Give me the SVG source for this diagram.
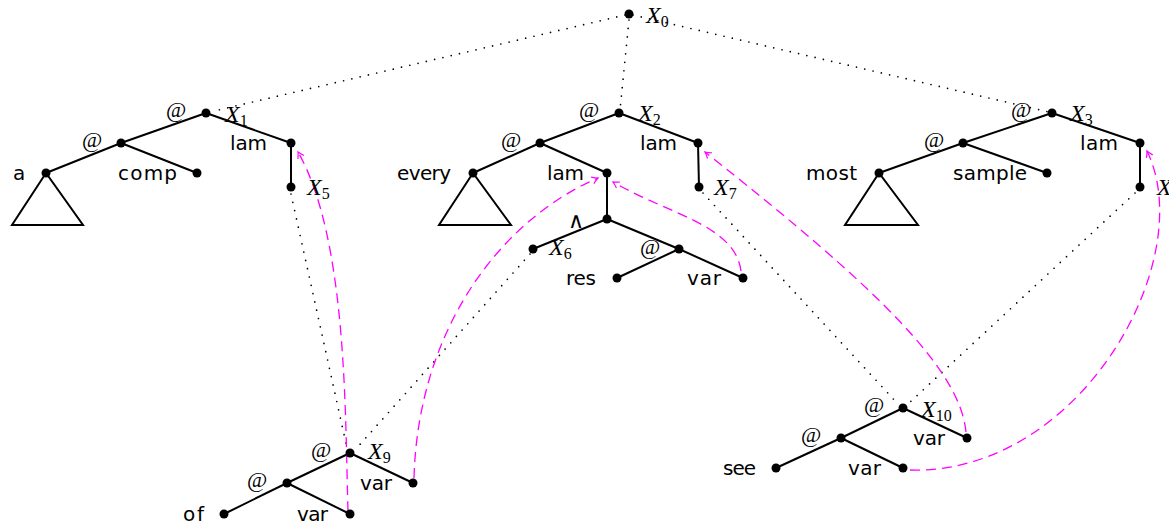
<svg xmlns="http://www.w3.org/2000/svg" width="1169" height="529" viewBox="0 0 1169 529">
<style>
.e{stroke:#000;stroke-width:2;fill:none}
.tri{stroke:#000;stroke-width:2;fill:#fff;stroke-linejoin:miter}
.d{stroke:#000;stroke-width:1.7;stroke-linecap:round;stroke-dasharray:0 8.5;fill:none}
.m{stroke:#ff00ff;stroke-width:1.3;stroke-dasharray:10 6;fill:none;marker-end:url(#ah)}
.n{fill:#000}
.s{font-family:"DejaVu Sans","Liberation Sans",sans-serif;font-size:20px;fill:#000}
.at{font-family:"Liberation Serif",serif;font-size:22px;fill:#000}
.w{font-family:"DejaVu Serif","Liberation Serif",serif;font-size:22px;fill:#000}
.x{font-family:"Liberation Serif",serif;font-style:italic;font-size:24px;fill:#000}
.sub{font-style:normal;font-size:16px}
</style>
<defs>
<marker id="ah" markerWidth="12" markerHeight="12" viewBox="-8 -6 10 12" refX="0" refY="0" orient="auto" markerUnits="userSpaceOnUse">
<path d="M-6,-3.5 Q-2,-0.8 0,0 Q-2,0.8 -6,3.5" stroke="#ff00ff" stroke-width="1.2" fill="none"/>
</marker>
</defs>
<g id="connectors">
<g id="tree-edges">
<line class="e" x1="206" y1="113" x2="121" y2="143"/>
<line class="e" x1="121" y1="143" x2="46" y2="173"/>
<line class="e" x1="121" y1="143" x2="197" y2="173"/>
<line class="e" x1="206" y1="113" x2="291" y2="143"/>
<line class="e" x1="291" y1="143" x2="291" y2="187"/>
<line class="e" x1="619" y1="113" x2="540" y2="143"/>
<line class="e" x1="540" y1="143" x2="473" y2="173"/>
<line class="e" x1="540" y1="143" x2="607" y2="173"/>
<line class="e" x1="607" y1="173" x2="607" y2="219"/>
<line class="e" x1="607" y1="219" x2="533" y2="249"/>
<line class="e" x1="607" y1="219" x2="679" y2="249"/>
<line class="e" x1="679" y1="249" x2="743" y2="278"/>
<line class="e" x1="679" y1="249" x2="617" y2="278"/>
<line class="e" x1="619" y1="113" x2="698" y2="143"/>
<line class="e" x1="698" y1="143" x2="699" y2="187"/>
<line class="e" x1="1052" y1="113" x2="963" y2="143"/>
<line class="e" x1="963" y1="143" x2="879" y2="173"/>
<line class="e" x1="963" y1="143" x2="1047" y2="173"/>
<line class="e" x1="1052" y1="113" x2="1140" y2="143"/>
<line class="e" x1="1140" y1="143" x2="1140" y2="187"/>
<line class="e" x1="350" y1="453" x2="287" y2="483"/>
<line class="e" x1="287" y1="483" x2="224" y2="514"/>
<line class="e" x1="287" y1="483" x2="350" y2="514"/>
<line class="e" x1="350" y1="453" x2="413" y2="483"/>
<line class="e" x1="903" y1="408" x2="841" y2="438"/>
<line class="e" x1="841" y1="438" x2="776" y2="468"/>
<line class="e" x1="841" y1="438" x2="903" y2="468"/>
<line class="e" x1="903" y1="408" x2="967" y2="438"/>
</g>
<g id="dotted">
<line class="d" x1="625" y1="15" x2="214" y2="111"/>
<line class="d" x1="629" y1="20" x2="620" y2="110"/>
<line class="d" x1="633" y1="15" x2="1049" y2="112"/>
<line class="d" x1="291" y1="194" x2="347" y2="448"/>
<line class="d" x1="530" y1="254" x2="355" y2="450"/>
<line class="d" x1="703" y1="193" x2="898" y2="404"/>
<line class="d" x1="1135" y1="193" x2="908" y2="404"/>
</g>
<g id="magenta">
<path class="m" d="M348,511 C345,420 348,240 298,152"/>
<path class="m" d="M414,478 C418,330 500,220 598,178"/>
<path class="m" d="M741,271 C735,225 670,215 613,182"/>
<path class="m" d="M966,432 C960,370 880,290 705,152"/>
<path class="m" d="M910,470 C1080,475 1200,260 1147,151"/>
</g>
</g>
<g id="X0"><circle class="n" cx="629" cy="14" r="4.5"/><text class="x" x="646" y="23">X<tspan class="sub" dy="4">0</tspan></text></g>
<g id="L-root"><circle class="n" cx="206" cy="113" r="4.5"/><text class="at" x="166" y="117">@</text><text class="x" x="225" y="122">X<tspan class="sub" dy="4">1</tspan></text></g>
<g id="L-app"><circle class="n" cx="121" cy="143" r="4.5"/><text class="at" x="82" y="147">@</text></g>
<g id="L-a"><polygon class="tri" points="46,173 12,225 83,225"/><circle class="n" cx="46" cy="173" r="4.5"/><text class="s" x="13" y="180">a</text></g>
<g id="L-comp"><circle class="n" cx="197" cy="173" r="4.5"/><text class="s" x="118" y="180" textLength="59" lengthAdjust="spacing">comp</text></g>
<g id="L-lam"><circle class="n" cx="291" cy="143" r="4.5"/><text class="s" x="230" y="150" textLength="37" lengthAdjust="spacing">lam</text></g>
<g id="X5"><circle class="n" cx="291" cy="187" r="4.5"/><text class="x" x="307" y="195">X<tspan class="sub" dy="4">5</tspan></text></g>
<g id="M-root"><circle class="n" cx="619" cy="113" r="4.5"/><text class="at" x="579" y="117">@</text><text class="x" x="638" y="121">X<tspan class="sub" dy="4">2</tspan></text></g>
<g id="M-app"><circle class="n" cx="540" cy="143" r="4.5"/><text class="at" x="501" y="147">@</text></g>
<g id="M-every"><polygon class="tri" points="473,173 439,225 511,225"/><circle class="n" cx="473" cy="173" r="4.5"/><text class="s" x="397" y="180" textLength="54" lengthAdjust="spacing">every</text></g>
<g id="M-lam1"><circle class="n" cx="607" cy="173" r="4.5"/><text class="s" x="547" y="180" textLength="37" lengthAdjust="spacing">lam</text></g>
<g id="M-and"><circle class="n" cx="607" cy="219" r="4.5"/><text class="w" x="568" y="228">∧</text></g>
<g id="X6"><circle class="n" cx="533" cy="249" r="4.5"/><text class="x" x="549" y="255">X<tspan class="sub" dy="4">6</tspan></text></g>
<g id="M-app2"><circle class="n" cx="679" cy="249" r="4.5"/><text class="at" x="640" y="254">@</text></g>
<g id="M-res"><circle class="n" cx="617" cy="278" r="4.5"/><text class="s" x="566" y="285" textLength="30" lengthAdjust="spacing">res</text></g>
<g id="M-var"><circle class="n" cx="743" cy="278" r="4.5"/><text class="s" x="687" y="285" textLength="34" lengthAdjust="spacing">var</text></g>
<g id="M-lam2"><circle class="n" cx="698" cy="143" r="4.5"/><text class="s" x="640" y="150" textLength="37" lengthAdjust="spacing">lam</text></g>
<g id="X7"><circle class="n" cx="699" cy="187" r="4.5"/><text class="x" x="714" y="195">X<tspan class="sub" dy="4">7</tspan></text></g>
<g id="R-root"><circle class="n" cx="1052" cy="113" r="4.5"/><text class="at" x="1011" y="117">@</text><text class="x" x="1070" y="121">X<tspan class="sub" dy="4">3</tspan></text></g>
<g id="R-app"><circle class="n" cx="963" cy="143" r="4.5"/><text class="at" x="924" y="147">@</text></g>
<g id="R-most"><polygon class="tri" points="879,173 845,225 918,225"/><circle class="n" cx="879" cy="173" r="4.5"/><text class="s" x="806" y="180" textLength="51" lengthAdjust="spacing">most</text></g>
<g id="R-sample"><circle class="n" cx="1047" cy="173" r="4.5"/><text class="s" x="953" y="180" textLength="74" lengthAdjust="spacing">sample</text></g>
<g id="R-lam"><circle class="n" cx="1140" cy="143" r="4.5"/><text class="s" x="1080" y="150" textLength="38" lengthAdjust="spacing">lam</text></g>
<g id="X4"><circle class="n" cx="1140" cy="187" r="4.5"/><text class="x" x="1157" y="195">X<tspan class="sub" dy="4">4</tspan></text></g>
<g id="B1-root"><circle class="n" cx="350" cy="453" r="4.5"/><text class="at" x="311" y="457">@</text><text class="x" x="368" y="459">X<tspan class="sub" dy="4">9</tspan></text></g>
<g id="B1-app"><circle class="n" cx="287" cy="483" r="4.5"/><text class="at" x="247" y="487">@</text></g>
<g id="B1-of"><circle class="n" cx="224" cy="514" r="4.5"/><text class="s" x="183" y="521" textLength="21" lengthAdjust="spacing">of</text></g>
<g id="B1-var1"><circle class="n" cx="350" cy="514" r="4.5"/><text class="s" x="297" y="521" textLength="31" lengthAdjust="spacing">var</text></g>
<g id="B1-var2"><circle class="n" cx="413" cy="483" r="4.5"/><text class="s" x="360" y="490" textLength="32" lengthAdjust="spacing">var</text></g>
<g id="B2-root"><circle class="n" cx="903" cy="408" r="4.5"/><text class="at" x="864" y="412">@</text><text class="x" x="921" y="417">X<tspan class="sub" dy="4">10</tspan></text></g>
<g id="B2-app"><circle class="n" cx="841" cy="438" r="4.5"/><text class="at" x="801" y="442">@</text></g>
<g id="B2-see"><circle class="n" cx="776" cy="468" r="4.5"/><text class="s" x="723" y="475" textLength="33" lengthAdjust="spacing">see</text></g>
<g id="B2-var1"><circle class="n" cx="903" cy="468" r="4.5"/><text class="s" x="848" y="475" textLength="33" lengthAdjust="spacing">var</text></g>
<g id="B2-var2"><circle class="n" cx="967" cy="438" r="4.5"/><text class="s" x="913" y="445" textLength="32" lengthAdjust="spacing">var</text></g>
</svg>
